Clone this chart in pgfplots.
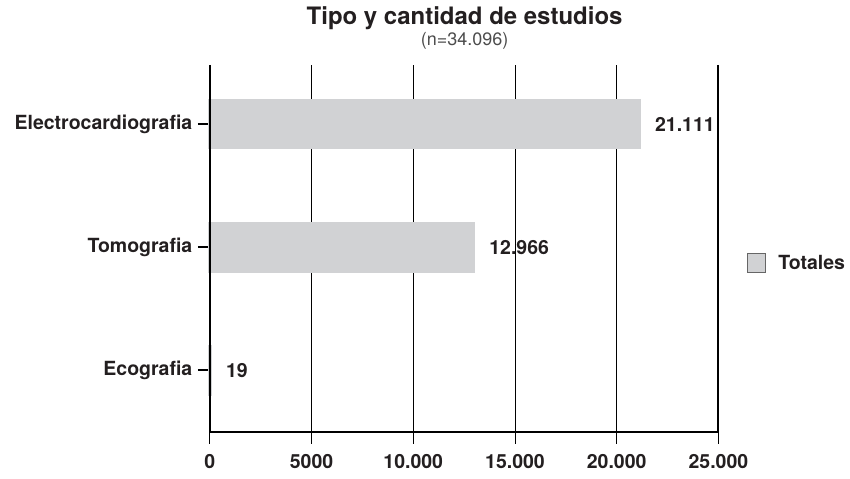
\documentclass[border=0pt]{standalone}
\usepackage{fontspec}
\setmainfont{TeX Gyre Heros}
\usepackage{pgfplots}
\pgfplotsset{compat=1.18}
\definecolor{barfill}{HTML}{D1D2D4}
\definecolor{txt}{HTML}{231F20}
\begin{document}
\begin{tikzpicture}
\path (-210bp,-47bp) rectangle (640bp,432bp);
\begin{axis}[
  at={(0,0)}, anchor=south west,
  scale only axis, width=509bp, height=367bp,
  xbar, xmin=0, xmax=25000, ymin=-0.5, ymax=2.48,
  bar width=48bp,
  axis line style={draw=none},
  scaled x ticks=false,
  xtick pos=bottom, ytick pos=left,
  ytick={0,1,2},
  yticklabels={Ecografia,Tomografia,Electrocardiografia},
  xtick={0,5000,10000,15000,20000,25000},
  xticklabels={0,5000,10.000,15.000,20.000,25.000},
  tick align=outside, major tick length=12bp,
  tick style={black, line width=0.8bp},
  y tick style={line width=2bp},
  xmajorgrids, grid style={black, line width=0.8bp},
  tick label style={font=\fontsize{19.5bp}{21bp}\selectfont\bfseries, text=txt},
  xticklabel style={yshift=-7bp},
  yticklabel style={xshift=-2bp},
  nodes near coords,
  point meta=x,
  every node near coord/.append style={font=\fontsize{19.5bp}{21bp}\selectfont\bfseries, text=txt, anchor=west, xshift=11bp,
    /pgf/number format/.cd, 1000 sep={.}, assume math mode=true},
  legend style={at={(rel axis cs:1.049,0.46)}, anchor=west, draw=none, fill=none,
    font=\fontsize{19.5bp}{21bp}\selectfont\bfseries, text=txt},
  legend image code/.code={\draw[fill=barfill, draw=black!60, line width=0.8bp] (0bp,-9.5bp) rectangle (19bp,9.5bp); \path (28bp,0bp);},
  clip=false,
]
\addplot[fill=barfill, draw=barfill, line width=3bp] coordinates {(19,0) (12966,1) (21111,2)};
\addlegendentry{Totales}
\draw[line width=2bp, black] (rel axis cs:0,1) -- (rel axis cs:0,0) -- (rel axis cs:1,0);
\draw[line width=2bp, black] (rel axis cs:0,0) -- ++(0,-12bp);
\draw[line width=2bp, black] (rel axis cs:1,1) -- (rel axis cs:1,0) -- ++(0,-12bp);
\end{axis}
\node[font=\fontsize{24bp}{26bp}\selectfont\bfseries, text=txt] at (255bp,414bp) {Tipo y cantidad de estudios};
\node[font=\fontsize{18bp}{20bp}\selectfont, text=black!70] at (255bp,391bp) {(n=34.096)};
\end{tikzpicture}
\end{document}
